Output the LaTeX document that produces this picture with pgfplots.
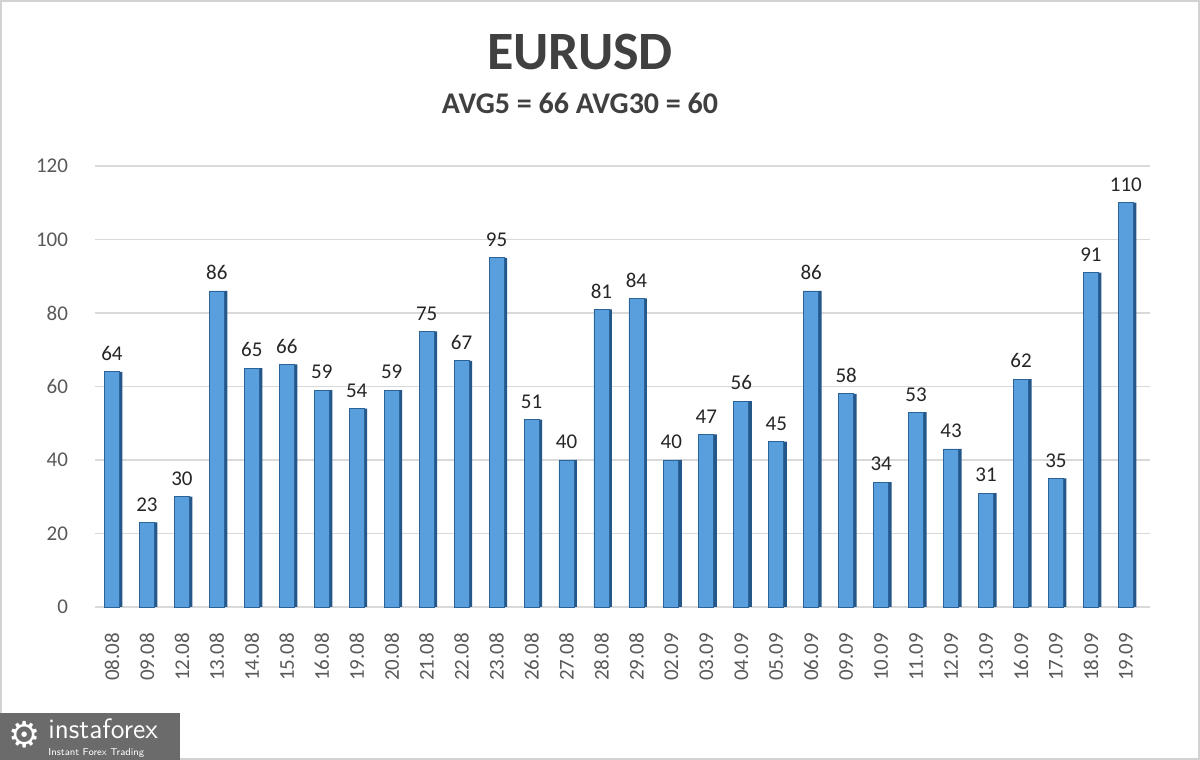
\documentclass[border=0pt]{standalone}
\usepackage{pgfplots}
\pgfplotsset{compat=1.18}
\usepackage{pgfplotstable}
\usepackage{fontspec}
\setmainfont{Carlito}
\newfontfamily\dejavu{DejaVu Sans}
\definecolor{barF}{HTML}{5A9FDD}
\definecolor{barEdge}{HTML}{2B6399}
\definecolor{barSide}{HTML}{24578A}
\definecolor{txt}{HTML}{404040}
\definecolor{tickc}{HTML}{595959}
\definecolor{gridc}{HTML}{D9D9D9}
\definecolor{lbl}{HTML}{262626}

\pgfplotstableread{
x v
0 64
1 23
2 30
3 86
4 65
5 66
6 59
7 54
8 59
9 75
10 67
11 95
12 51
13 40
14 81
15 84
16 40
17 47
18 56
19 45
20 86
21 58
22 34
23 53
24 43
25 31
26 62
27 35
28 91
29 110
}\data

\begin{document}
\begin{tikzpicture}[x=1pt,y=1pt]
\path[use as bounding box] (0,0) rectangle (600,380);
\fill[white] (0,0) rectangle (600,380);
\draw[gray!35, line width=0.8pt] (0.4,0.4) rectangle (599.6,379.6);
\node[font=\bfseries\fontsize{27}{30}\selectfont, text=txt] at (290,354) {EURUSD};
\node[font=\bfseries\fontsize{15}{18}\selectfont, text=txt] at (290,328.5) {AVG5 = 66 AVG30 = 60};
\begin{axis}[
  at={(47.5pt,76.5pt)}, anchor=south west,
  scale only axis, width=527.5pt, height=220.5pt,
  xmin=-0.486, xmax=29.69, ymin=0, ymax=120,
  ytick={0,20,...,120},
  xtick={0,...,29},
  xticklabels={08.08,09.08,12.08,13.08,14.08,15.08,16.08,19.08,20.08,21.08,22.08,23.08,26.08,27.08,28.08,29.08,02.09,03.09,04.09,05.09,06.09,09.09,10.09,11.09,12.09,13.09,16.09,17.09,18.09,19.09},
  axis line style={draw=none},
  major tick length=0pt,
  ymajorgrids, grid style={gridc, line width=0.7pt},
  /pgf/number format/assume math mode=true,
  yticklabel style={font=\fontsize{10.5}{12}\selectfont, text=tickc, xshift=-10pt},
  xticklabel style={font=\fontsize{10.5}{12}\selectfont, text=tickc, yshift=-9.5pt, rotate=90, anchor=east},
  ybar, bar width=7.5pt,
  clip=false,
]
\addplot[ybar, bar shift=4.5pt, bar width=1.5pt, fill=barSide, draw=none] table[x=x,y=v] {\data};
\addplot[ybar, bar shift=0pt, fill=barF, draw=barEdge, line width=0.4pt,
  nodes near coords,
  every node near coord/.append style={font=\fontsize{10.5}{12}\selectfont, text=lbl, yshift=2pt},
  ] table[x=x,y=v] {\data};
\end{axis}
\fill[black!58] (0,0) rectangle (90,23.5);
\node[text=white, font=\dejavu\fontsize{18}{18}\selectfont] at (12.5,12.5) {⚙};
\node[text=white, font=\sffamily\fontsize{14}{15}\selectfont, anchor=base west, inner sep=0pt] at (24,10.8) {instaforex};
\node[text=white, font=\sffamily\fontsize{5}{6}\selectfont, anchor=base west, inner sep=0pt] at (24,2.2) {Instant Forex Trading};
\end{tikzpicture}
\end{document}
